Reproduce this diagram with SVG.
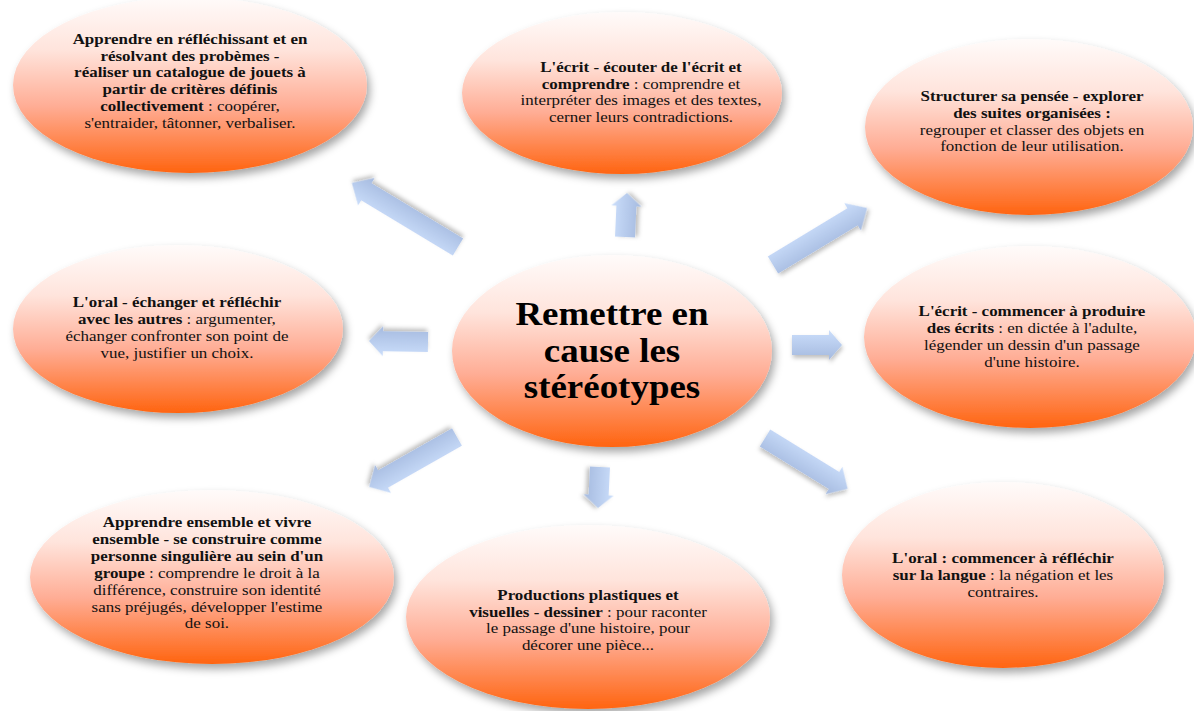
<svg xmlns="http://www.w3.org/2000/svg" width="1194" height="711" viewBox="0 0 1194 711">
<style>
  .node { fill: url(#nodeGrad); filter: url(#shadow); }
  .arrow { fill: url(#arrowGrad); filter: url(#ashadow); }
  text { font-family: "Liberation Serif", "DejaVu Serif", serif; font-size: 15px; fill: #111; text-anchor: middle; }
  .b { font-weight: bold; }
  .title { font-size: 33px; font-weight: bold; fill: #000; }
</style>
<defs>
  <linearGradient id="nodeGrad" x1="0" y1="0" x2="0" y2="1">
    <stop offset="0" stop-color="#fffbfa"/>
    <stop offset="0.3" stop-color="#ffe4dc"/>
    <stop offset="0.62" stop-color="#ffad95"/>
    <stop offset="1" stop-color="#ff6410"/>
  </linearGradient>
  <linearGradient id="arrowGrad" x1="0" y1="0" x2="0" y2="1">
    <stop offset="0" stop-color="#cbdefb"/>
    <stop offset="1" stop-color="#a5badf"/>
  </linearGradient>
  <filter id="shadow" x="-10%" y="-10%" width="125%" height="130%">
    <feDropShadow dx="3" dy="5" stdDeviation="4" flood-color="#000" flood-opacity="0.35"/>
  </filter>
  <filter id="ashadow" x="-20%" y="-50%" width="140%" height="200%">
    <feDropShadow dx="1" dy="3" stdDeviation="2" flood-color="#000" flood-opacity="0.25"/>
  </filter>
</defs>
<rect width="1194" height="711" fill="#fff"/>

<g id="connectors">
  <path class="arrow" transform="translate(458,247) rotate(-148.9)" d="M0,-10 L107,-10 L107,-16 L124,0 L107,16 L107,10 L0,10 Z"/>
  <path class="arrow" transform="translate(625,237) rotate(-87.4)" d="M0,-10 L31,-10 L31,-15 L44,0 L31,15 L31,10 L0,10 Z"/>
  <path class="arrow" transform="translate(773,265) rotate(-31.2)" d="M0,-10 L93,-10 L93,-16 L110,0 L93,16 L93,10 L0,10 Z"/>
  <path class="arrow" transform="translate(428,342) rotate(181)" d="M0,-10 L45,-10 L45,-15 L59,0 L45,15 L45,10 L0,10 Z"/>
  <path class="arrow" transform="translate(792,345)" d="M0,-10 L37,-10 L37,-15 L50,0 L37,15 L37,10 L0,10 Z"/>
  <path class="arrow" transform="translate(457,437) rotate(150.4)" d="M0,-10 L85,-10 L85,-16 L101,0 L85,16 L85,10 L0,10 Z"/>
  <path class="arrow" transform="translate(600,467) rotate(92.8)" d="M0,-10 L28,-10 L28,-15 L41,0 L28,15 L28,10 L0,10 Z"/>
  <path class="arrow" transform="translate(765,438) rotate(31.6)" d="M0,-10 L81,-10 L81,-16 L97,0 L81,16 L81,10 L0,10 Z"/>
</g>

<g id="n1">
  <ellipse class="node" cx="190" cy="85" rx="177" ry="88"/>
  <g transform="matrix(1.13,0,0,1,-24.7,0)">
    <text x="190" y="44" class="b">Apprendre en réfléchissant et en</text>
    <text x="190" y="61" class="b">résolvant des probèmes -</text>
    <text x="190" y="77" class="b">réaliser un catalogue de jouets à</text>
    <text x="190" y="94" class="b">partir de critères définis</text>
    <text x="190" y="111"><tspan class="b">collectivement</tspan> : coopérer,</text>
    <text x="190" y="128">s'entraider, tâtonner, verbaliser.</text>
  </g>
</g>

<g id="n2">
  <ellipse class="node" cx="622" cy="93" rx="160" ry="81"/>
  <g transform="matrix(1.13,0,0,1,-83.33,0)">
    <text x="641" y="72" class="b">L'écrit - écouter de l'écrit et</text>
    <text x="641" y="89"><tspan class="b">comprendre</tspan> : comprendre et</text>
    <text x="641" y="105">interpréter des images et des textes,</text>
    <text x="641" y="122">cerner leurs contradictions.</text>
  </g>
</g>

<g id="n3">
  <ellipse class="node" cx="1029" cy="127" rx="164" ry="88"/>
  <g transform="matrix(1.13,0,0,1,-134.16,0)">
    <text x="1032" y="101" class="b">Structurer sa pensée - explorer</text>
    <text x="1032" y="118" class="b">des suites organisées :</text>
    <text x="1032" y="135">regrouper et classer des objets en</text>
    <text x="1032" y="151">fonction de leur utilisation.</text>
  </g>
</g>

<g id="n4">
  <ellipse class="node" cx="178" cy="329" rx="165" ry="84"/>
  <g transform="matrix(1.13,0,0,1,-23.01,0)">
    <text x="177" y="307" class="b">L'oral - échanger et réfléchir</text>
    <text x="177" y="324"><tspan class="b">avec les autres</tspan> : argumenter,</text>
    <text x="177" y="341">échanger confronter son point de</text>
    <text x="177" y="358">vue, justifier un choix.</text>
  </g>
</g>

<g id="n5">
  <ellipse class="node" cx="1030" cy="337" rx="166" ry="91"/>
  <g transform="matrix(1.13,0,0,1,-134.16,0)">
    <text x="1032" y="316" class="b">L'écrit - commencer à produire</text>
    <text x="1032" y="333"><tspan class="b">des écrits</tspan> : en dictée à l'adulte,</text>
    <text x="1032" y="350">légender un dessin d'un passage</text>
    <text x="1032" y="367">d'une histoire.</text>
  </g>
</g>

<g id="n6">
  <ellipse class="node" cx="212" cy="577" rx="182" ry="87"/>
  <g transform="matrix(1.13,0,0,1,-26.91,0)">
    <text x="207" y="527" class="b">Apprendre ensemble et vivre</text>
    <text x="207" y="544" class="b">ensemble - se construire comme</text>
    <text x="207" y="561" class="b">personne singulière au sein d'un</text>
    <text x="207" y="578"><tspan class="b">groupe</tspan> : comprendre le droit à la</text>
    <text x="207" y="595">différence, construire son identité</text>
    <text x="207" y="612">sans préjugés, développer l'estime</text>
    <text x="207" y="628">de soi.</text>
  </g>
</g>

<g id="n7">
  <ellipse class="node" cx="588" cy="617" rx="182" ry="92"/>
  <g transform="matrix(1.13,0,0,1,-76.44,0)">
    <text x="588" y="600" class="b">Productions plastiques et</text>
    <text x="588" y="617"><tspan class="b">visuelles - dessiner</tspan> : pour raconter</text>
    <text x="588" y="633">le passage d'une histoire, pour</text>
    <text x="588" y="650">décorer une pièce...</text>
  </g>
</g>

<g id="n8">
  <ellipse class="node" cx="1003" cy="575" rx="161" ry="93"/>
  <g transform="matrix(1.13,0,0,1,-130.39,0)">
    <text x="1003" y="563" class="b">L'oral : commencer à réfléchir</text>
    <text x="1003" y="580"><tspan class="b">sur la langue</tspan> : la négation et les</text>
    <text x="1003" y="597">contraires.</text>
  </g>
</g>

<g id="center">
  <ellipse class="node" cx="612" cy="351" rx="160" ry="96"/>
  <g transform="matrix(1.12,0,0,1,-73.44,0)">
    <text x="612" y="325" class="title">Remettre en</text>
    <text x="612" y="362" class="title">cause les</text>
    <text x="612" y="398" class="title">stéréotypes</text>
  </g>
</g>
</svg>
